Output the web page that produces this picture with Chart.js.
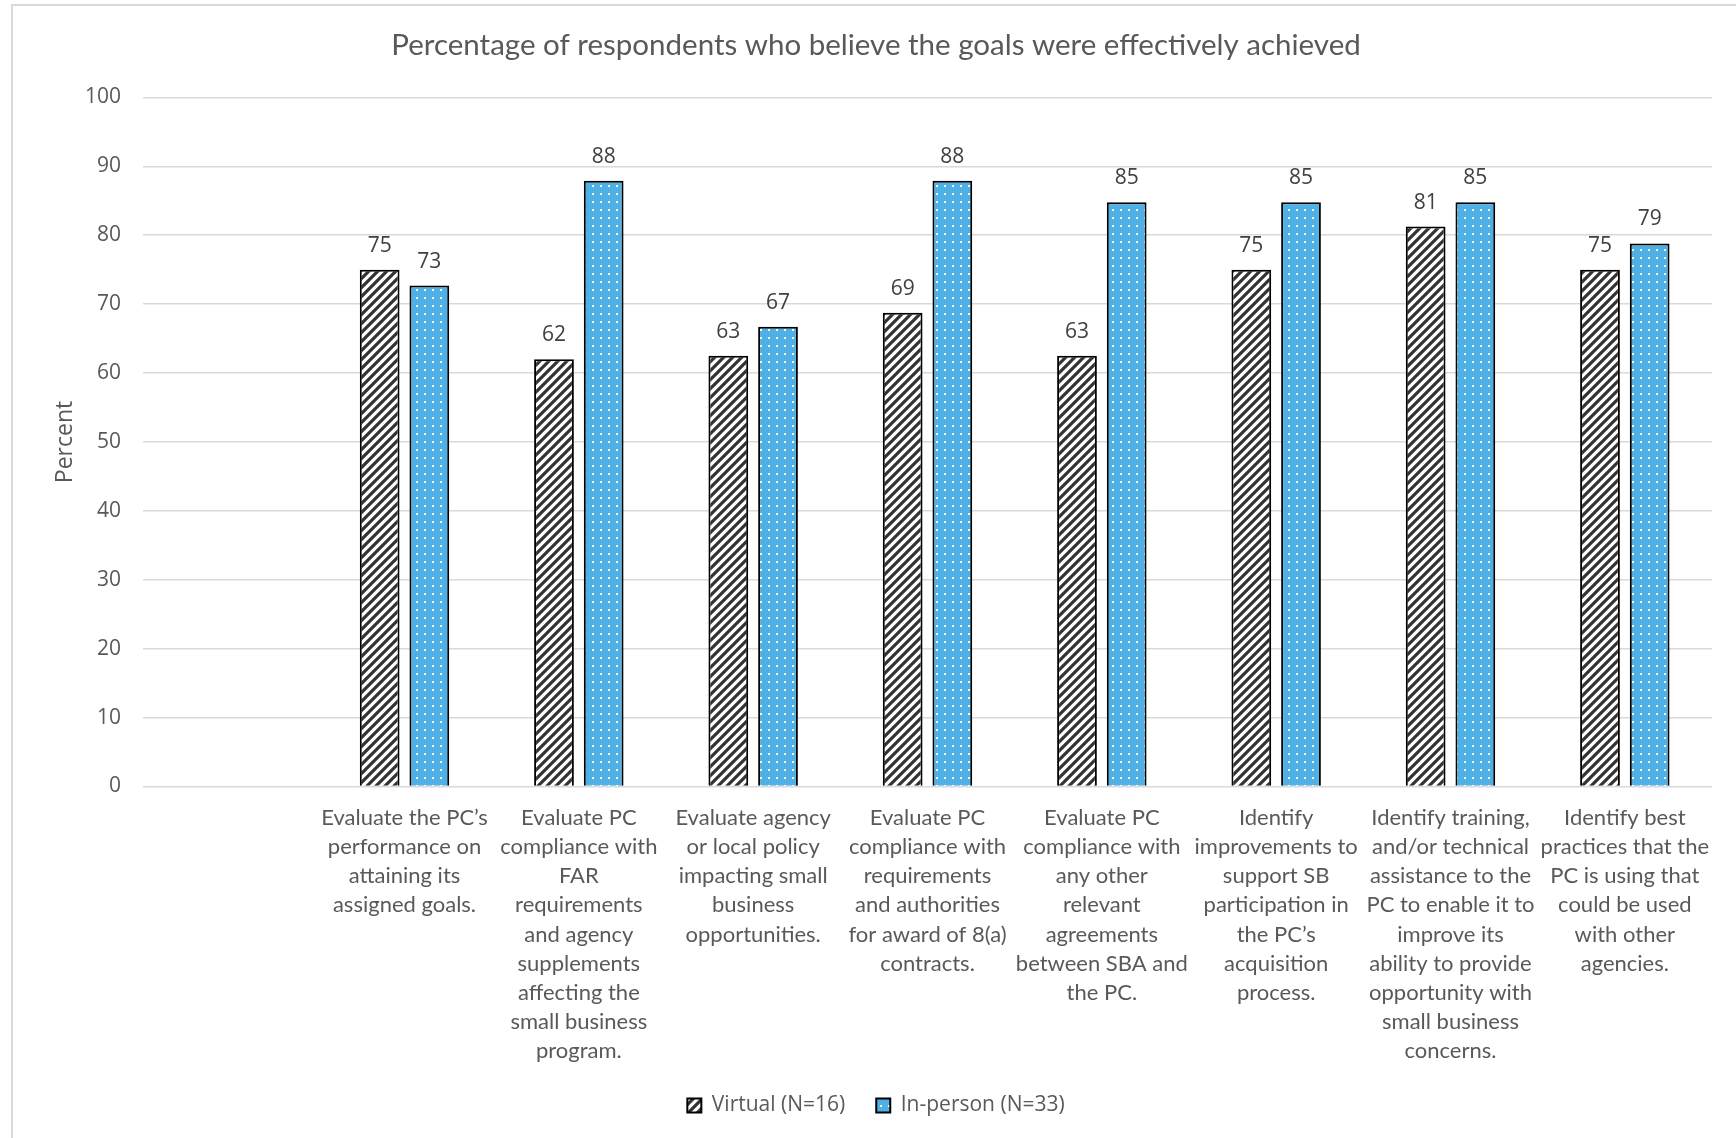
<!DOCTYPE html>
<html>
<head>
<meta charset="utf-8">
<script src="https://cdn.jsdelivr.net/npm/chart.js@4.4.0/dist/chart.umd.min.js"></script>
<style>
  html, body { margin: 0; padding: 0; background: #fff; overflow: hidden; }
  #box { position: absolute; left: 11px; top: 4px; width: 1730px; height: 1170px; border: 2px solid #d9d9d9; }
</style>
</head>
<body>
<div id="box"><canvas id="chart" width="1730" height="1150"></canvas></div>
<script>
// goals asked about (first slot is left empty in the original)
const categories = [
    "",
    ["Evaluate the PC’s", "performance on", "attaining its", "assigned goals."],
    ["Evaluate PC", "compliance with", "FAR", "requirements", "and agency", "supplements", "affecting the", "small business", "program."],
    ["Evaluate agency", "or local policy", "impacting small", "business", "opportunities."],
    ["Evaluate PC", "compliance with", "requirements", "and authorities", "for award of 8(a)", "contracts."],
    ["Evaluate PC", "compliance with", "any other", "relevant", "agreements", "between SBA and", "the PC."],
    ["Identify", "improvements to", "support SB", "participation in", "the PC’s", "acquisition", "process."],
    ["Identify training,", "and/or technical", "assistance to the", "PC to enable it to", "improve its", "ability to provide", "opportunity with", "small business", "concerns."],
    ["Identify best", "practices that the", "PC is using that", "could be used", "with other", "agencies."]
];

const virtualVals = [null, 75, 62, 62.5, 68.75, 62.5, 75, 81.25, 75];
const inPersonVals = [null, 72.7, 87.9, 66.7, 87.9, 84.8, 84.8, 84.8, 78.8];

const seriesNames = ["Virtual (N=16)", "In-person (N=33)"];
const yTicks = [0, 10, 20, 30, 40, 50, 60, 70, 80, 90, 100];

// fill patterns like the excel ones
function hatchPattern() {
    const n = 9;
    const c = document.createElement("canvas");
    c.width = n; c.height = n;
    const g = c.getContext("2d");
    g.fillStyle = "#fff";
    g.fillRect(0, 0, n, n);
    g.strokeStyle = "#333";
    g.lineWidth = 3.2;
    g.beginPath();
    g.moveTo(-2, n + 2); g.lineTo(n + 2, -2);
    g.moveTo(-2, 2); g.lineTo(2, -2);
    g.moveTo(n - 2, n + 2); g.lineTo(n + 2, n - 2);
    g.stroke();
    return g.createPattern(c, "repeat");
}

function dotPattern() {
    const c = document.createElement("canvas");
    c.width = 8; c.height = 8;
    const g = c.getContext("2d");
    g.fillStyle = "#4eb0e4";
    g.fillRect(0, 0, 8, 8);
    g.fillStyle = "#fff";
    g.fillRect(3, 3, 2, 2);
    return g.createPattern(c, "repeat");
}

// numbers over the bars
const valueLabels = {
    id: "valueLabels",
    afterDatasetsDraw(chart) {
        const ctx = chart.ctx;
        ctx.save();
        ctx.font = '21px "Open Sans"';
        ctx.fillStyle = "#404040";
        ctx.textAlign = "center";
        ctx.textBaseline = "middle";
        chart.data.datasets.forEach((ds, i) => {
            chart.getDatasetMeta(i).data.forEach((bar, j) => {
                if (ds.data[j] == null) return;
                ctx.fillText(Math.round(ds.data[j]), bar.x, bar.y - 24);
            });
        });
        ctx.restore();
    }
};

const ctx = document.getElementById("chart").getContext("2d");

new Chart(ctx, {
    type: "bar",
    data: {
        labels: categories,
        datasets: [
            {
                label: seriesNames[0],
                data: virtualVals,
                backgroundColor: hatchPattern(),
                borderColor: "#000",
                borderWidth: 2,
                categoryPercentage: 0.57,
                barPercentage: 0.8
            },
            {
                label: seriesNames[1],
                data: inPersonVals,
                backgroundColor: dotPattern(),
                borderColor: "#000",
                borderWidth: 2,
                categoryPercentage: 0.57,
                barPercentage: 0.8
            }
        ]
    },
    options: {
        responsive: false,
        animation: false,
        layout: { padding: { left: 27, right: 31, top: 0, bottom: 30 } },
        plugins: {
            title: {
                display: true,
                text: "Percentage of respondents who believe the goals were effectively achieved",
                color: "#595959",
                font: { family: "Lato", size: 29.5, weight: "normal" },
                padding: { top: 22, bottom: 34 }
            },
            legend: {
                position: "bottom",
                labels: {
                    color: "#595959",
                    font: { family: "Open Sans", size: 21 },
                    boxWidth: 14,
                    boxHeight: 14,
                    padding: 31
                }
            },
            tooltip: { enabled: false }
        },
        scales: {
            x: {
                grid: { display: false, drawTicks: false },
                border: { display: false },
                ticks: {
                    color: "#595959",
                    font: { family: "Lato", size: 22, lineHeight: 29.1 / 22 },
                    maxRotation: 0,
                    autoSkip: false,
                    padding: 17
                },
                afterFit(scale) { scale.height = 277.5; }
            },
            y: {
                min: 0,
                max: 100,
                grid: { color: "#d9d9d9", lineWidth: 1.5, drawTicks: false },
                border: { display: false },
                afterBuildTicks(scale) { scale.ticks = yTicks.map(v => ({ value: v })); },
                ticks: {
                    color: "#595959",
                    font: { family: "Open Sans", size: 21 },
                    padding: 22
                },
                title: {
                    display: true,
                    text: "Percent",
                    color: "#595959",
                    font: { family: "Open Sans", size: 23 },
                    padding: { top: 12, bottom: 0 }
                },
                afterFit(scale) { scale.width = 103; }
            }
        }
    },
    plugins: [valueLabels]
});
</script>
</body>
</html>
